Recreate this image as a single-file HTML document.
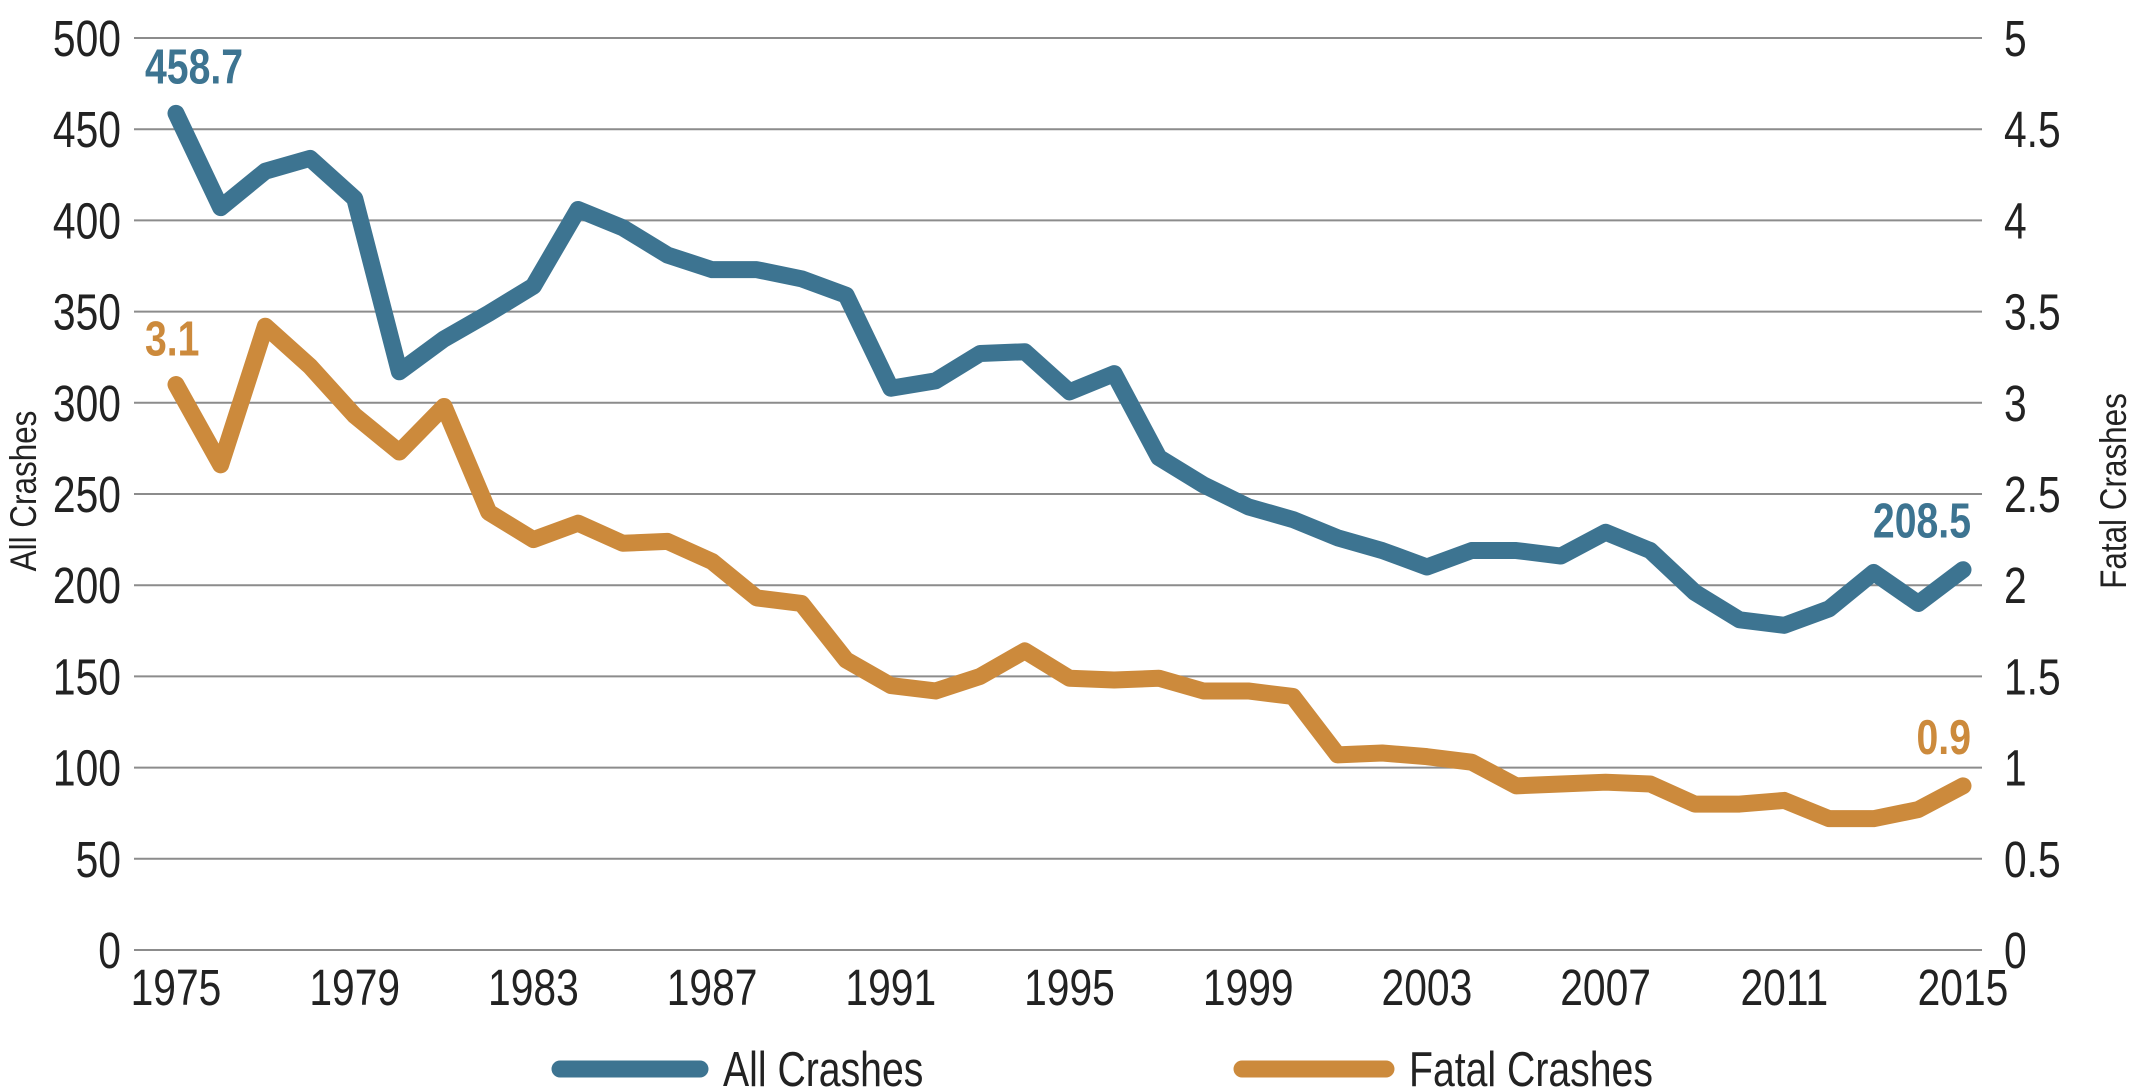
<!DOCTYPE html>
<html><head><meta charset="utf-8"><style>
html,body{margin:0;padding:0;background:#fff;}
svg{display:block;font-family:"Liberation Sans",sans-serif;}
</style></head><body>
<svg id="chart" width="2140" height="1090"></svg>
<script>
const years = [];
for (let y = 1975; y <= 2015; y++) years.push(y);
const allCrashes = [458.7,407,427,434,412,317,335,349,364,406,396,381,373,373,368,359,308,312,327,328,306,316,270,255,243,236,226,219,210,219,219,216,229,219,196,181,178,187,207,190,208.5];
const fatalCrashes = [3.1,2.66,3.42,3.2,2.93,2.73,2.98,2.4,2.25,2.34,2.23,2.24,2.13,1.93,1.9,1.59,1.45,1.42,1.5,1.64,1.49,1.48,1.49,1.42,1.42,1.39,1.07,1.08,1.06,1.03,0.9,0.91,0.92,0.91,0.8,0.8,0.82,0.72,0.72,0.77,0.9];
const leftTicks = [0,50,100,150,200,250,300,350,400,450,500];
const rightTicks = ["0","0.5","1","1.5","2","2.5","3","3.5","4","4.5","5"];
const xTickYears = [1975,1979,1983,1987,1991,1995,1999,2003,2007,2011,2015];

const NS = "http://www.w3.org/2000/svg";
const svg = document.getElementById("chart");
const X0 = 176, X1 = 1963, Y0 = 950, Y1 = 38;
const SX = 0.8;
const xs = y => X0 + (y - 1975) / 40 * (X1 - X0);
const yl = v => Y0 - v / 500 * (Y0 - Y1);
const yr = v => Y0 - v / 5 * (Y0 - Y1);
function mk(tag, attrs, text) {
  const e = document.createElementNS(NS, tag);
  for (const k in attrs) e.setAttribute(k, attrs[k]);
  if (text !== undefined) e.textContent = text;
  svg.appendChild(e);
  return e;
}
function txt(x, y, s, size, anchor, fill, weight) {
  return mk("text", {x: 0, y: 0, transform: "translate(" + x + "," + y + ") scale(" + SX + ",1)", "text-anchor": anchor, "font-size": size, fill: fill, "font-weight": weight || "normal"}, s);
}
leftTicks.forEach((t, i) => {
  const g = mk("line", {x1: 134, x2: 1982, y1: yl(t), y2: yl(t), stroke: "#8c8c8c", "stroke-width": 2});
  
  
  const l = txt(121, yl(t) + 18, String(t), 51, "end", "#222");
  
  
  const r = txt(2004, yl(t) + 18, rightTicks[i], 51, "start", "#222");
  
  
});
xTickYears.forEach(y => {
  const t = txt(xs(y), 1005, String(y), 51, "middle", "#222");
  
  
});
const la = mk("text", {x: 0, y: 0, transform: "translate(36,491) rotate(-90) scale(0.85,1)", "text-anchor": "middle", "font-size": 37, fill: "#222"}, "All Crashes");


const ra = mk("text", {x: 0, y: 0, transform: "translate(2126,491) rotate(-90) scale(0.85,1)", "text-anchor": "middle", "font-size": 37, fill: "#222"}, "Fatal Crashes");



const pa = mk("polyline", {points: years.map((y, i) => xs(y) + "," + yl(allCrashes[i])).join(" "), fill: "none", stroke: "#3d7491", "stroke-width": 17, "stroke-linejoin": "round", "stroke-linecap": "round"});


const pf = mk("polyline", {points: years.map((y, i) => xs(y) + "," + yr(fatalCrashes[i])).join(" "), fill: "none", stroke: "#cc8a3c", "stroke-width": 17, "stroke-linejoin": "round", "stroke-linecap": "round"});



const n = years.length - 1;
const a1 = txt(145, yl(allCrashes[0]) - 30, String(allCrashes[0]), 49, "start", "#3d7491", "bold");


const a2 = txt(1971, yl(allCrashes[n]) - 32, String(allCrashes[n]), 49, "end", "#3d7491", "bold");


const f1 = txt(145, yr(fatalCrashes[0]) - 29, String(fatalCrashes[0]), 49, "start", "#cc8a3c", "bold");


const f2 = txt(1971, yr(fatalCrashes[n]) - 32, String(fatalCrashes[n]), 49, "end", "#cc8a3c", "bold");



const lg1 = mk("line", {x1: 560, x2: 700, y1: 1069, y2: 1069, stroke: "#3d7491", "stroke-width": 17, "stroke-linecap": "round"});


const lt1 = txt(723, 1086, "All Crashes", 49, "start", "#222");


const lg2 = mk("line", {x1: 1242, x2: 1386, y1: 1069, y2: 1069, stroke: "#cc8a3c", "stroke-width": 17, "stroke-linecap": "round"});


const lt2 = txt(1409, 1086, "Fatal Crashes", 49, "start", "#222");


</script>
</body></html>
